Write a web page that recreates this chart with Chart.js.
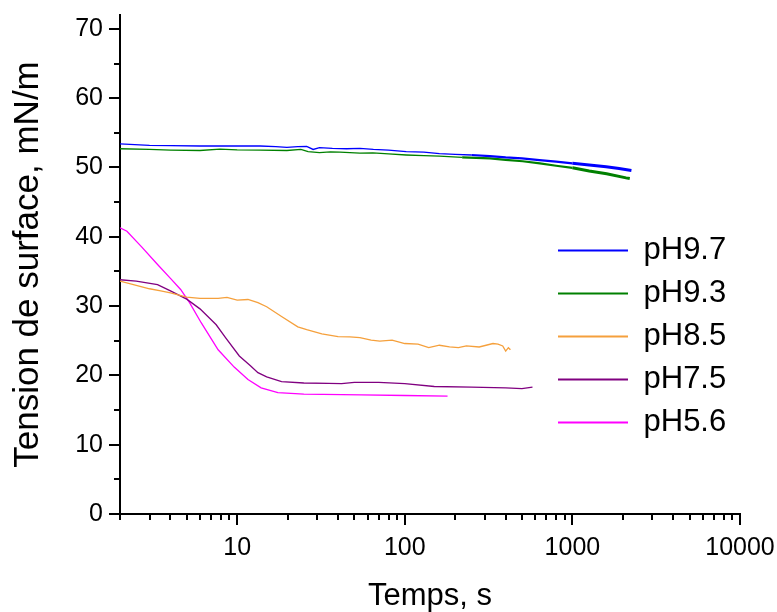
<!DOCTYPE html>
<html>
<head>
<meta charset="utf-8">
<script src="https://cdn.jsdelivr.net/npm/chart.js@4.4.1/dist/chart.umd.min.js"></script>
<style>
    body { margin: 0; background: #fff; }
</style>
</head>
<body>
<canvas id="tensionChart" width="777" height="612"></canvas>
<script>
//  ==================== DATA ====================
// time (s) and surface tension (mN/m) for each pH
let t97 = [2, 3, 4, 6, 8, 10, 13.7, 17, 19.8, 23, 26, 28.4, 31, 37, 45, 54, 65, 80, 102, 130, 161, 200, 250, 322, 400, 500, 636, 800, 1000, 1260, 1590, 1900, 2250];
let y97 = [53.4, 53.2, 53.15, 53.1, 53.1, 53.1, 53.1, 53.0, 52.9, 53.0, 53.05, 52.6, 52.85, 52.75, 52.7, 52.75, 52.6, 52.5, 52.3, 52.2, 52.0, 51.9, 51.8, 51.65, 51.45, 51.3, 51.06, 50.85, 50.6, 50.35, 50.1, 49.85, 49.55];

let t93 = [2, 3, 4, 6, 7.9, 10, 13.7, 19.8, 24, 26.5, 31, 36, 41, 54, 64.5, 80, 102, 130, 161, 220, 322, 400, 505, 640, 800, 1000, 1260, 1600, 2090, 2200];
let y93 = [52.7, 52.6, 52.5, 52.45, 52.65, 52.55, 52.5, 52.45, 52.6, 52.3, 52.13, 52.25, 52.2, 52.07, 52.1, 51.95, 51.8, 51.7, 51.65, 51.45, 51.3, 51.1, 50.9, 50.6, 50.25, 49.95, 49.5, 49.1, 48.5, 48.4];

let t85 = [2, 2.5, 3, 3.5, 4, 5, 6, 7.7, 8.7, 10, 11.6, 13.3, 15, 18.4, 23, 26, 32, 40, 47, 54, 63, 71, 84, 100, 120, 139, 161, 185, 209, 233, 278, 336, 360, 384, 400, 415, 427];
let y85 = [33.6, 33.0, 32.5, 32.2, 31.9, 31.3, 31.1, 31.1, 31.25, 30.85, 30.95, 30.5, 29.9, 28.5, 27.0, 26.6, 26.0, 25.6, 25.55, 25.45, 25.1, 24.95, 25.1, 24.6, 24.5, 24.0, 24.35, 24.1, 24.0, 24.25, 24.1, 24.6, 24.5, 24.25, 23.5, 24.0, 23.7];

let t75 = [2, 2.5, 3.35, 4, 5, 6, 7.5, 8.5, 10.3, 12, 13.3, 15, 18.4, 25, 35, 42, 50, 70, 100, 150, 250, 400, 500, 578];
let y75 = [33.8, 33.6, 33.1, 32.2, 31.0, 29.6, 27.3, 25.5, 22.8, 21.4, 20.4, 19.8, 19.1, 18.9, 18.85, 18.8, 19.0, 19.0, 18.8, 18.4, 18.3, 18.2, 18.1, 18.3];

let t56 = [2, 2.2, 2.7, 3.35, 4, 4.6, 5.2, 6.1, 7.7, 9.6, 11.6, 13.9, 17.5, 25, 55, 100, 180];
let y56 = [41.3, 40.8, 38.5, 36.0, 34.0, 32.4, 30.5, 27.6, 23.7, 21.2, 19.4, 18.2, 17.5, 17.3, 17.2, 17.1, 17.0];

let seriesLabels = ['pH9.7', 'pH9.3', 'pH8.5', 'pH7.5', 'pH5.6'];
let seriesColors = ['#0000ff', '#008000', '#f5a03c', '#800080', '#ff00ff'];

// axis ticks
let xTickValues = [2, 3, 4, 5, 6, 7, 8, 9, 10, 20, 30, 40, 50, 60, 70, 80, 90, 100, 200, 300, 400, 500, 600, 700, 800, 900, 1000, 2000, 3000, 4000, 5000, 6000, 7000, 8000, 9000, 10000];
let xTickLabels = [10, 100, 1000, 10000];
let yTickValues = [0, 5, 10, 15, 20, 25, 30, 35, 40, 45, 50, 55, 60, 65, 70];
let yTickLabels = [0, 10, 20, 30, 40, 50, 60, 70];


function toPoints(times, values){
    let pts = [];
    for (let i = 0; i < times.length; i++) {
        pts.push({x: times[i], y: values[i]});
    }
    return pts;
}

// noisy long-time part of the pH9.7 / pH9.3 records reads as a thicker band
function bandWidth(ctx){
    let x = ctx.p1.parsed.x;
    if (x > 1000) return 3;
    if (x > 300) return 2.2;
    return 1.3;
}


//  ==================== PLUGINS ====================
// outward tick marks, long on labelled values, short otherwise
const tickMarks = {
    id: 'tickMarks',
    afterDraw(chart){
        const ctx = chart.ctx;
        const xs = chart.scales.x;
        const ys = chart.scales.y;
        ctx.save();
        ctx.strokeStyle = '#000';
        ctx.lineWidth = 2;
        ctx.beginPath();
        xs.ticks.forEach(function(t){
            let px = Math.round(xs.getPixelForValue(t.value));
            let len = xTickLabels.includes(t.value) ? 11 : 6;
            ctx.moveTo(px, xs.top);
            ctx.lineTo(px, xs.top + len);
        });
        ys.ticks.forEach(function(t){
            let py = Math.round(ys.getPixelForValue(t.value));
            let len = yTickLabels.includes(t.value) ? 11 : 6;
            ctx.moveTo(ys.right, py);
            ctx.lineTo(ys.right - len, py);
        });
        ctx.stroke();
        ctx.restore();
    }
};

// move the legend inside the plot, right side
const legendSpot = {
    id: 'legendSpot',
    afterLayout(chart){
        const area = chart.chartArea;
        chart.legend.left = area.right - 194;
        chart.legend.top = area.top + 208;
    }
};


//  ==================== CHART ====================
Chart.defaults.font.family = "'Liberation Sans', Arial, sans-serif";
Chart.defaults.color = '#000';

let allTimes = [t97, t93, t85, t75, t56];
let allValues = [y97, y93, y85, y75, y56];
let datasets = [];
for (let i = 0; i < allTimes.length; i++) {
    let ds = {
        label: seriesLabels[i],
        data: toPoints(allTimes[i], allValues[i]),
        borderColor: seriesColors[i],
        backgroundColor: seriesColors[i],
        borderWidth: 1.3,
        pointRadius: 0,
        tension: 0,
        fill: false
    };
    if (i < 2) {
        ds.segment = { borderWidth: bandWidth };
    }
    datasets.push(ds);
}

let tensionChart = new Chart(document.getElementById('tensionChart'), {
    type: 'line',
    data: { datasets: datasets },
    plugins: [tickMarks, legendSpot],
    options: {
        responsive: false,
        animation: false,
        layout: {
            padding: { top: 15, right: 37, bottom: 0, left: 0 }
        },
        plugins: {
            tooltip: { enabled: false },
            legend: {
                position: 'chartArea',
                align: 'start',
                labels: {
                    boxWidth: 70,
                    boxHeight: 2,
                    padding: 12,
                    color: '#000',
                    font: { size: 31 },
                    generateLabels: function(chart){
                        return chart.data.datasets.map(function(d, i){
                            return {
                                text: d.label,
                                fillStyle: d.borderColor,
                                strokeStyle: d.borderColor,
                                lineWidth: 0,
                                hidden: false,
                                datasetIndex: i
                            };
                        });
                    }
                }
            }
        },
        scales: {
            x: {
                type: 'logarithmic',
                min: 2,
                max: 10000,
                afterBuildTicks: function(scale){
                    scale.ticks = xTickValues.map(function(v){ return {value: v}; });
                },
                afterFit: function(scale){
                    scale.height = 98;
                },
                ticks: {
                    autoSkip: false,
                    maxRotation: 0,
                    padding: 2,
                    font: { size: 25, lineHeight: 1 },
                    callback: function(value){
                        return xTickLabels.includes(value) ? String(value) : '';
                    }
                },
                grid: { display: false, drawTicks: true, tickLength: 20 },
                border: { display: true, color: '#000', width: 2 },
                title: {
                    display: true,
                    text: 'Temps, s',
                    font: { size: 31 },
                    padding: { top: 0, bottom: -3 }
                }
            },
            y: {
                min: 0,
                max: 72,
                afterBuildTicks: function(scale){
                    scale.ticks = yTickValues.map(function(v){ return {value: v}; });
                },
                afterFit: function(scale){
                    scale.width = 120;
                },
                ticks: {
                    autoSkip: false,
                    padding: 2,
                    font: { size: 25, lineHeight: 1 },
                    callback: function(value){
                        return yTickLabels.includes(value) ? String(value) : '';
                    }
                },
                grid: { display: false, drawTicks: true, tickLength: 15 },
                border: { display: true, color: '#000', width: 2 },
                title: {
                    display: true,
                    text: 'Tension de surface, mN/m',
                    font: { size: 35 },
                    padding: { top: 7, bottom: 0 }
                }
            }
        }
    }
});
</script>
</body>
</html>
